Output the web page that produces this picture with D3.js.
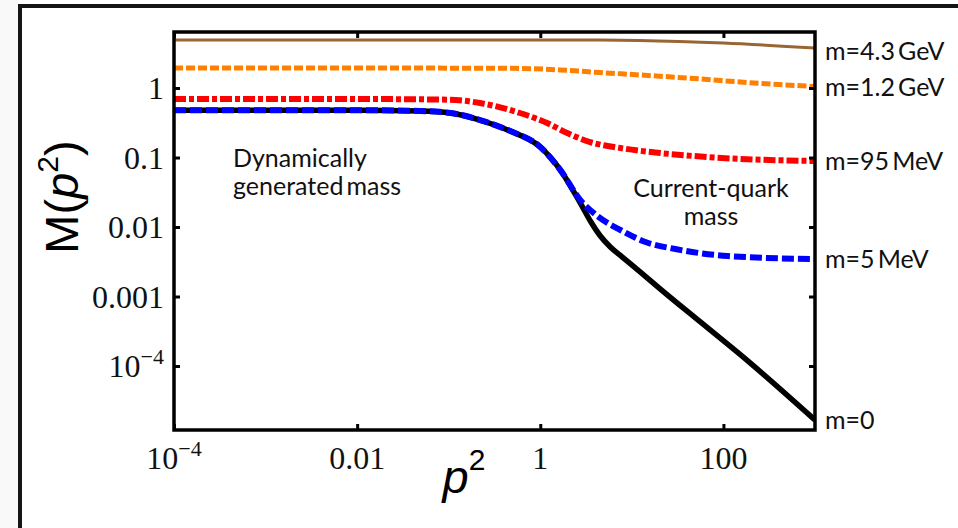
<!DOCTYPE html>
<html>
<head>
<meta charset="utf-8">
<script src="https://cdn.jsdelivr.net/npm/d3@7"></script>
<style>
  body { margin: 0; background: #fff; }
  svg { display: block; }
</style>
</head>
<body>
<svg id="chart"></svg>
<script>
// mass function M(p^2) for several current-quark masses, pairs of [p^2, M]
const mZero = [[1e-4, 0.48], [0.01, 0.48], [0.049, 0.467], [0.105, 0.437], [0.22, 0.346], [0.47, 0.24],
  [1.0, 0.142], [1.66, 0.066], [2.74, 0.022], [3.52, 0.0122], [4.53, 0.00743], [5.82, 0.00516],
  [7.87, 0.0037], [12.4, 0.00225], [20.5, 0.00128], [56, 4.3e-4], [197, 1.1e-4], [1000, 1.67e-5]];
const m5MeV = [[1e-4, 0.48], [0.01, 0.48], [0.049, 0.467], [0.105, 0.437], [0.22, 0.346], [0.47, 0.24],
  [1.0, 0.142], [1.66, 0.066], [2.74, 0.0244], [4.2, 0.0144], [7.5, 0.00906], [14.1, 0.00608],
  [29.9, 0.00482], [111, 0.00383], [1000, 0.00346]];
const m95MeV = [[1e-4, 0.695], [0.01, 0.695], [0.1, 0.68], [0.22, 0.608], [0.6, 0.437], [1.19, 0.313],
  [1.97, 0.225], [3.5, 0.167], [7.5, 0.137], [20.5, 0.116], [67, 0.1016], [1000, 0.089]];
const m12GeV = [[1e-4, 1.94], [0.01, 1.94], [0.5, 1.92], [1.66, 1.82], [4.5, 1.67], [12.4, 1.54],
  [56, 1.35], [153, 1.22], [1000, 1.05]];
const m43GeV = [[1e-4, 4.9], [0.01, 4.9], [3, 4.9], [12, 4.83], [100, 4.44], [1000, 3.76]];

const seriesNames = ['m=0', 'm=5\u2009MeV', 'm=95\u2009MeV', 'm=1.2\u2009GeV', 'm=4.3\u2009GeV'];
const seriesData = [mZero, m5MeV, m95MeV, m12GeV, m43GeV];
const seriesColors = ['#000000', '#0000ff', '#ff0000', '#ff8000', '#996633'];
const seriesDash = [null, '12,4', '12,3,5,3', '9,3', null];
const seriesWidth = [5.5, 6, 6, 5, 3];
const labelNudge = [0, 0, 0, 0, 3];

const xTicks = [1e-4, 0.01, 1, 100];
const xTickLabels = [['10', '\u22124'], ['0.01'], ['1'], ['100']];
const yTicks = [1, 0.1, 0.01, 0.001, 1e-4];
const yTickLabels = [['1'], ['0.1'], ['0.01'], ['0.001'], ['10', '\u22124']];

const width = 958, height = 528;
const margin = {top: 32, right: 143, bottom: 98, left: 174};

const svg = d3.select('#chart').attr('width', width).attr('height', height);

// outer frame pieces
svg.append('rect').attr('x', 0).attr('y', 0).attr('width', 18).attr('height', height).attr('fill', '#f9f9f9');
svg.append('line').attr('x1', 18).attr('x2', width).attr('y1', 6).attr('y2', 6)
  .attr('stroke', '#151515').attr('stroke-width', 4);
svg.append('line').attr('x1', 20).attr('x2', 20).attr('y1', 4).attr('y2', height)
  .attr('stroke', '#151515').attr('stroke-width', 4);

const x = d3.scaleLog().domain([1e-4, 1000]).range([margin.left, width - margin.right]);
const y = d3.scaleLog().domain([1.2e-5, 6.4]).range([height - margin.bottom, margin.top]);

svg.append('clipPath').attr('id', 'clip').append('rect')
  .attr('x', margin.left).attr('y', margin.top)
  .attr('width', width - margin.left - margin.right)
  .attr('height', height - margin.top - margin.bottom);

const line = d3.line()
  .x(d => x(d[0]))
  .y(d => y(d[1]))
  .curve(d3.curveMonotoneX);

const plot = svg.append('g').attr('clip-path', 'url(#clip)');
seriesData.forEach((s, i) => {
  plot.append('path')
    .attr('d', line(s))
    .attr('fill', 'none')
    .attr('stroke', seriesColors[i])
    .attr('stroke-width', seriesWidth[i])
    .attr('stroke-dasharray', seriesDash[i])
    .attr('stroke-linejoin', 'round');
});

// ticks, all pointing inward, on every side
const tickLen = 6;
const axes = [
  [d3.axisBottom(x), `translate(0,${height - margin.bottom})`, xTicks],
  [d3.axisTop(x), `translate(0,${margin.top})`, xTicks],
  [d3.axisLeft(y), `translate(${margin.left},0)`, yTicks],
  [d3.axisRight(y), `translate(${width - margin.right},0)`, yTicks]
];
axes.forEach(a => {
  const g = svg.append('g')
    .attr('transform', a[1])
    .call(a[0].tickValues(a[2]).tickSize(-tickLen).tickSizeOuter(0).tickFormat(() => ''));
  g.select('.domain').remove();
  g.selectAll('.tick line').attr('stroke', '#000').attr('stroke-width', 3);
});

svg.append('rect')
  .attr('x', margin.left).attr('y', margin.top)
  .attr('width', width - margin.left - margin.right)
  .attr('height', height - margin.top - margin.bottom)
  .attr('fill', 'none').attr('stroke', '#000').attr('stroke-width', 3.5);

// tick labels
const serif = '"Liberation Serif", "DejaVu Serif", serif';
function tickText(g, parts) {
  g.append('tspan').text(parts[0]);
  if (parts[1]) g.append('tspan').attr('dy', -13).attr('font-size', 22).text(parts[1]);
}
xTicks.forEach((t, i) => {
  const txt = svg.append('text')
    .attr('x', x(t)).attr('y', 469)
    .attr('text-anchor', 'middle')
    .attr('font-family', serif).attr('font-size', 32).attr('fill', '#111');
  tickText(txt, xTickLabels[i]);
});
yTicks.forEach((t, i) => {
  const txt = svg.append('text')
    .attr('x', margin.left - 10).attr('y', y(t) + 11)
    .attr('text-anchor', 'end')
    .attr('font-family', serif).attr('font-size', 32).attr('fill', '#111');
  tickText(txt, yTickLabels[i]);
});

// axis titles
const sans = '"Liberation Sans", Arial, sans-serif';
const yTitle = svg.append('text')
  .attr('transform', 'translate(78,197) rotate(-90)')
  .attr('text-anchor', 'middle')
  .attr('font-family', sans).attr('font-size', 47).attr('fill', '#000');
yTitle.append('tspan').text('M(');
yTitle.append('tspan').attr('font-style', 'italic').text('p');
yTitle.append('tspan').attr('dy', -20).attr('font-size', 30).text('2');
yTitle.append('tspan').attr('dy', 20).text(')');

const xTitle = svg.append('text')
  .attr('x', 464).attr('y', 493)
  .attr('text-anchor', 'middle')
  .attr('font-family', sans).attr('font-size', 47).attr('fill', '#000');
xTitle.append('tspan').attr('font-style', 'italic').text('p');
xTitle.append('tspan').attr('dy', -23).attr('font-size', 30).text('2');

// curve labels at the right end
const labelFont = 'Lato, "Noto Sans", sans-serif';
seriesData.forEach((s, i) => {
  const last = s[s.length - 1];
  svg.append('text')
    .attr('x', width - margin.right + 10)
    .attr('y', y(last[1]) + 9 + labelNudge[i])
    .attr('font-family', labelFont).attr('font-size', 25).attr('fill', '#111')
    .text(seriesNames[i]);
});

// annotations
const notes = [
  {lines: ['Dynamically', 'generated\u2009mass'], x: 233, y: 167, anchor: 'start'},
  {lines: ['Current-quark', 'mass'], x: 711, y: 197, anchor: 'middle'}
];
notes.forEach(n => {
  const t = svg.append('text')
    .attr('font-family', labelFont).attr('font-size', 25).attr('fill', '#111')
    .attr('text-anchor', n.anchor);
  n.lines.forEach((l, j) => {
    t.append('tspan').attr('x', n.x).attr('y', n.y + j * 28).text(l);
  });
});
</script>
</body>
</html>
